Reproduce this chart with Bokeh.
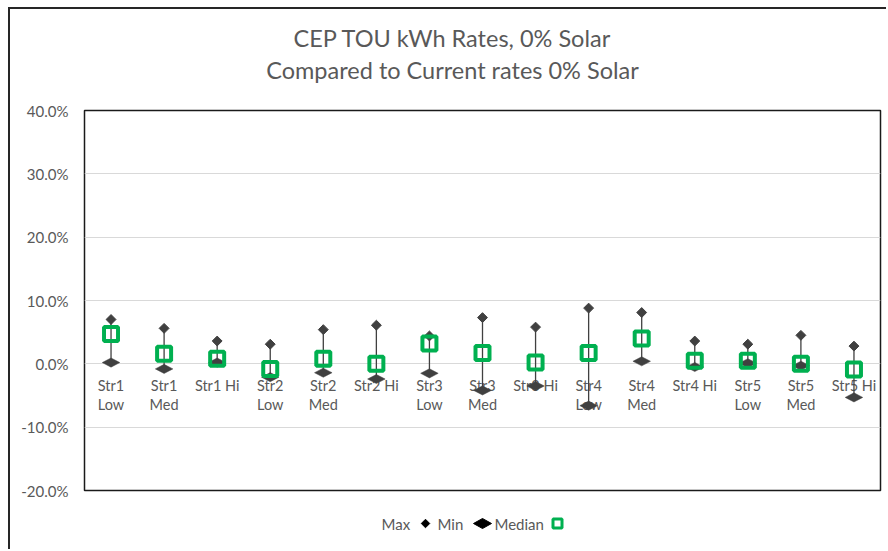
import numpy as np
from bokeh.plotting import figure
from bokeh.models import Range1d, FixedTicker, NumeralTickFormatter, ColumnDataSource
from bokeh.layouts import column
from bokeh.embed import file_html
from bokeh.resources import INLINE
from bokeh.core.properties import value

# ---------------- data ----------------
categories = ["Str1 Low", "Str1 Med", "Str1 Hi", "Str2 Low", "Str2 Med", "Str2 Hi",
              "Str3 Low", "Str3 Med", "Str3 Hi", "Str4 Low", "Str4 Med", "Str4 Hi",
              "Str5 Low", "Str5 Med", "Str5 Hi"]
tick_labels = ["Str1\nLow", "Str1\nMed", "Str1 Hi", "Str2\nLow", "Str2\nMed", "Str2 Hi",
               "Str3\nLow", "Str3\nMed", "Str3 Hi", "Str4\nLow", "Str4\nMed", "Str4 Hi",
               "Str5\nLow", "Str5\nMed", "Str5 Hi"]
max_vals = [0.070, 0.056, 0.036, 0.031, 0.054, 0.061, 0.044, 0.073, 0.058, 0.088,
            0.081, 0.036, 0.031, 0.045, 0.028]
min_vals = [0.002, -0.008, 0.002, -0.021, -0.014, -0.024, -0.015, -0.042, -0.035, -0.066,
            0.004, -0.005, 0.001, -0.003, -0.053]
median_vals = [0.047, 0.016, 0.008, -0.008, 0.008, 0.000, 0.032, 0.017, 0.002, 0.017,
               0.040, 0.005, 0.005, 0.000, -0.009]
y_ticks = [-0.2, -0.1, 0.0, 0.1, 0.2, 0.3, 0.4]
title_lines = ["CEP TOU kWh Rates, 0% Solar", "Compared to Current rates 0% Solar"]
legend_labels = ["Max", "Min", "Median"]

FONT = "Lato"
GRAY_TXT = "#595959"
DARK = "#404040"
GREEN = "#00B050"
FIG_W = 876
FRAME_W = 796
BL, BR = 74, 6

n = len(categories)
xpos = np.arange(n) + 0.5

# min diamonds (wide, flat) built around each data point
hw, hh = 0.165, 0.0072
min_xs = [[x - hw, x, x + hw, x] for x in xpos]
min_ys = [[v, v + hh, v, v - hh] for v in min_vals]

src = ColumnDataSource(dict(x=xpos, cat=categories, lab=tick_labels,
                            mx=max_vals, mn=min_vals, md=median_vals,
                            zero=[0.0] * n))


def strip(height):
    f = figure(width=FIG_W, height=height, output_backend="svg", toolbar_location=None,
               x_range=Range1d(0, FRAME_W), y_range=Range1d(0, height),
               min_border_left=BL, min_border_right=BR, min_border_top=0, min_border_bottom=0)
    f.axis.visible = False
    f.grid.visible = False
    f.outline_line_color = None
    f.border_fill_color = "white"
    return f


# ---------------- title strip ----------------
TH = 91
tt = strip(TH)
tt.text(x=[368, 368], y=[63, 31], text=title_lines, text_align="center",
        text_baseline="alphabetic", text_font=value(FONT), text_font_size="23.5px",
        text_color=GRAY_TXT)

# ---------------- main chart ----------------
p = figure(width=FIG_W, height=400, output_backend="svg", toolbar_location=None,
           x_range=Range1d(0, n), y_range=Range1d(y_ticks[0], y_ticks[-1]),
           min_border_left=BL, min_border_right=BR, min_border_top=10, min_border_bottom=10)

p.outline_line_color = "#1a1a1a"
p.outline_line_width = 1.5
p.background_fill_color = "white"
p.border_fill_color = "white"

p.xaxis.visible = False
p.xgrid.visible = False
p.ygrid.ticker = FixedTicker(ticks=y_ticks)
p.ygrid.grid_line_color = "#D9D9D9"
p.ygrid.grid_line_width = 1

ya = p.yaxis[0]
ya.ticker = FixedTicker(ticks=y_ticks)
ya.formatter = NumeralTickFormatter(format="0.0%")
ya.axis_line_color = None
ya.major_tick_line_color = None
ya.minor_tick_line_color = None
ya.major_tick_out = 0
ya.major_tick_in = 0
ya.major_label_standoff = 16
ya.major_label_text_font = FONT
ya.major_label_text_font_size = "15px"
ya.major_label_text_color = GRAY_TXT

# category labels at the zero line
p.text(x="x", y="zero", text="lab", source=src, text_align="center", text_baseline="top",
       y_offset=13, text_font=value(FONT), text_font_size="14.5px", text_color=GRAY_TXT,
       text_line_height=1.15)

# high-low lines
p.segment(x0="x", y0="mn", x1="x", y1="mx", source=src, line_color=DARK, line_width=1.3)
# min diamonds
p.patches(xs=min_xs, ys=min_ys, fill_color=DARK, line_color=DARK, line_width=0.5)
# max diamonds
p.scatter(x="x", y="mx", source=src, marker="square", angle=np.pi / 4, size=7,
          fill_color=DARK, line_color=DARK)
# medians
p.scatter(x="x", y="md", source=src, marker="square", size=14, fill_color=None,
          line_color=GREEN, line_width=4)

# ---------------- legend strip ----------------
LH = 49
lg = strip(LH)
ly = 26
lg.text(x=[297, 353, 410], y=[ly] * 3, text=legend_labels, text_align="left",
        text_baseline="middle", text_font=value(FONT), text_font_size="15px",
        text_color=GRAY_TXT)
lg.scatter(x=[341], y=[ly], marker="square", angle=np.pi / 4, size=6,
           fill_color="#000000", line_color="#000000")
lg.patches(xs=[[389, 398, 407, 398]], ys=[[ly, ly + 5, ly, ly - 5]],
           fill_color="#000000", line_color="#000000")
lg.scatter(x=[473], y=[ly], marker="square", size=9, fill_color=None,
           line_color=GREEN, line_width=3)

layout = column(tt, p, lg, spacing=0,
                styles={"border-left": "2px solid #262626", "border-top": "2px solid #262626",
                        "margin-left": "8px", "margin-top": "7px"})

open("out.html", "w").write(file_html(layout, INLINE))
